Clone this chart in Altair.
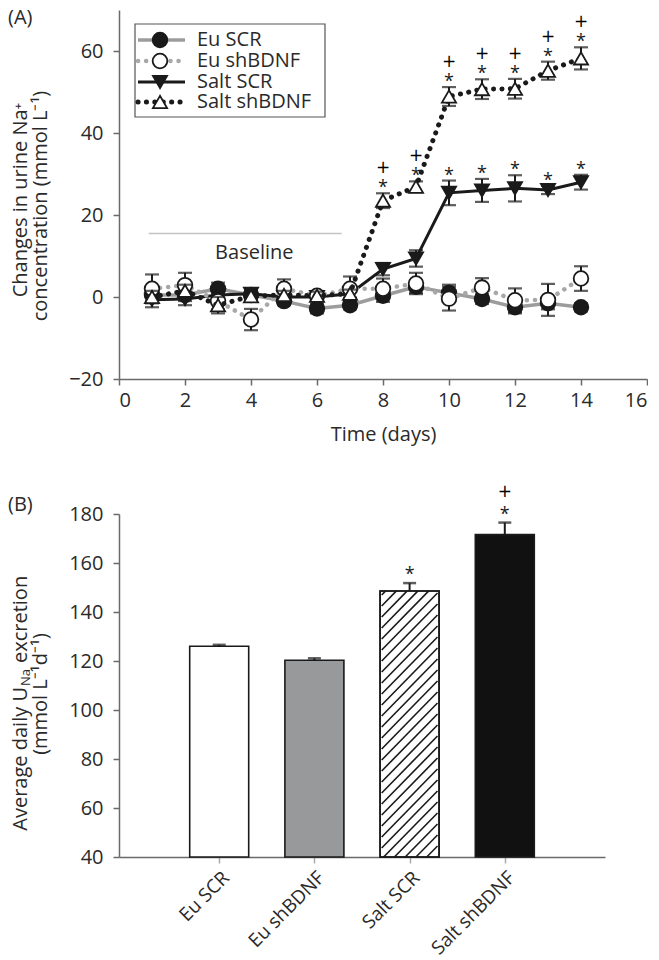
import altair as alt
import pandas as pd
import numpy as np

# ---------------- Data (panel A) ----------------
days = list(range(1, 15))
series_names = ["Eu SCR", "Eu shBDNF", "Salt SCR", "Salt shBDNF"]

eu_scr = [0.5, 0.5, 2.0, 0.5, -1.0, -2.8, -2.0, 0.3, 2.5, 1.0, -0.5, -2.5, -1.5, -2.5]
eu_scr_err = [1.5, 1.5, 1.5, 1.0, 1.0, 1.2, 1.0, 1.5, 1.5, 2.0, 1.2, 1.5, 1.5, 1.0]
eu_sh = [2.0, 2.9, -1.0, -5.5, 2.0, 0.3, 2.0, 2.0, 3.3, -0.4, 2.3, -0.8, -0.7, 4.5]
eu_sh_err = [3.5, 3.0, 2.0, 2.6, 2.3, 1.0, 3.0, 2.5, 2.6, 2.9, 2.3, 2.9, 3.9, 3.0]
salt_scr = [-0.7, -0.5, 0.5, 0.8, 0.0, 0.0, 0.8, 6.8, 9.4, 25.4, 26.0, 26.5, 26.1, 28.0]
salt_scr_err = [1.8, 1.5, 1.0, 1.0, 1.0, 1.0, 1.0, 1.5, 2.0, 3.0, 2.8, 3.2, 1.0, 1.8]
salt_sh = [0.0, 1.5, -2.0, 0.2, 0.5, 0.3, 0.8, 23.5, 26.9, 48.9, 50.7, 50.8, 55.2, 58.2]
salt_sh_err = [1.5, 1.5, 2.0, 1.0, 1.0, 1.0, 1.0, 1.8, 1.3, 2.3, 2.4, 2.4, 2.2, 2.7]

star_days_salt_sh = [8, 9, 10, 11, 12, 13, 14]
plus_days_salt_sh = [8, 9, 10, 11, 12, 13, 14]
star_days_salt_scr = [10, 11, 12, 13, 14]

baseline_span = [0.9, 6.75]
baseline_level = [15.5]
baseline_label_pos = [4.1, 10.8]

# ---------------- Data (panel B) ----------------
groups = ["Eu SCR", "Eu shBDNF", "Salt SCR", "Salt shBDNF"]
group_pos = [1, 2, 3, 4]
means = [126.0, 120.3, 148.6, 171.6]
sems = [0.6, 0.8, 3.2, 4.9]
star_groups = ["Salt SCR", "Salt shBDNF"]
plus_groups = ["Salt shBDNF"]

# ---------------- Layout / style ----------------
FONT = "Open Sans"
WA, HA = 528, 369
WB, HB = 486, 343
INK = "#1a1a1a"
TXT = "#2a2a2a"

vals = [eu_scr, eu_sh, salt_scr, salt_sh]
errs = [eu_scr_err, eu_sh_err, salt_scr_err, salt_sh_err]
rows = []
for name, vv, ee in zip(series_names, vals, errs):
    for d, v, e in zip(days, vv, ee):
        rows.append(dict(series=name, day=d, value=v, lo=v - e, hi=v + e))
dfA = pd.DataFrame(rows)

styles = {
    "Eu SCR": dict(line=dict(color="#9c9c9c", strokeWidth=3.5), shape="circle", fill=INK, size=215),
    "Eu shBDNF": dict(line=dict(color="#a8a8a8", strokeWidth=4.5, strokeDash=[0.1, 8], strokeCap="round"),
                      shape="circle", fill="white", size=215),
    "Salt SCR": dict(line=dict(color=INK, strokeWidth=3), shape="triangle-down", fill=INK, size=200),
    "Salt shBDNF": dict(line=dict(color=INK, strokeWidth=5, strokeDash=[0.1, 8.3], strokeCap="round"),
                        shape="triangle-up", fill="white", size=200),
}

axA_x = alt.Axis(values=list(range(0, 17, 2)), title="Time (days)", titlePadding=14, labelPadding=5)
axA_y = alt.Axis(values=[-20, 0, 20, 40, 60], title=None, labelPadding=10)
scA_x = alt.Scale(domain=[0, 16], nice=False)
scA_y = alt.Scale(domain=[-20, 70], nice=False)


def XA(f):
    return alt.X(f, scale=scA_x, axis=axA_x)


def YA(f):
    return alt.Y(f, scale=scA_y, axis=axA_y)


layersA = []
one = pd.DataFrame({"k": [0]})

# baseline
bl = pd.DataFrame({"x": [baseline_span[0]], "x2": [baseline_span[1]], "y": baseline_level})
layersA.append(alt.Chart(bl).mark_rule(color="#c4c4c4", strokeWidth=1.5).encode(x=XA("x:Q"), x2="x2:Q", y=YA("y:Q")))
bt = pd.DataFrame({"x": [baseline_label_pos[0]], "y": [baseline_label_pos[1]], "t": ["Baseline"]})
layersA.append(alt.Chart(bt).mark_text(font=FONT, fontSize=20, color=TXT).encode(x=XA("x:Q"), y=YA("y:Q"), text="t:N"))

for name in ["Eu SCR", "Salt SCR", "Eu shBDNF", "Salt shBDNF"]:
    st = styles[name]
    d = dfA[dfA.series == name]
    layersA.append(alt.Chart(d).mark_line(**st["line"]).encode(x=XA("day:Q"), y=YA("value:Q")))
    layersA.append(alt.Chart(d).mark_rule(color=INK, strokeWidth=2).encode(x=XA("day:Q"), y=YA("lo:Q"), y2="hi:Q"))
    layersA.append(alt.Chart(d).mark_tick(orient="horizontal", color=INK, size=14, thickness=2.2).encode(x=XA("day:Q"), y=YA("lo:Q")))
    layersA.append(alt.Chart(d).mark_tick(orient="horizontal", color=INK, size=14, thickness=2.2).encode(x=XA("day:Q"), y=YA("hi:Q")))
    layersA.append(alt.Chart(d).mark_point(shape=st["shape"], filled=True, fill=st["fill"], stroke=INK,
                                           strokeWidth=1.8, size=st["size"], opacity=1).encode(x=XA("day:Q"), y=YA("value:Q")))

# significance marks
stars_sh = dfA[(dfA.series == "Salt shBDNF") & dfA.day.isin(star_days_salt_sh)]
plus_sh = dfA[(dfA.series == "Salt shBDNF") & dfA.day.isin(plus_days_salt_sh)]
stars_scr = dfA[(dfA.series == "Salt SCR") & dfA.day.isin(star_days_salt_scr)]
stars_all = pd.concat([stars_sh, stars_scr])
layersA.append(alt.Chart(stars_all).mark_text(text="*", font=FONT, fontSize=18, dy=-5, color=INK).encode(x=XA("day:Q"), y=YA("hi:Q")))
layersA.append(alt.Chart(plus_sh).mark_text(text="+", font="DejaVu Sans", fontSize=17, dy=-25, color="#000000").encode(x=XA("day:Q"), y=YA("hi:Q")))

# legend (custom)
layersA.append(alt.Chart(one).mark_rect(fill="white", stroke="#555", strokeWidth=1.2).encode(
    x=alt.value(16), x2=alt.value(206), y=alt.value(14), y2=alt.value(107)))
leg_y = [30, 51, 72, 92]
for name, ly in zip(series_names, leg_y):
    st = styles[name]
    layersA.append(alt.Chart(one).mark_rule(**st["line"]).encode(x=alt.value(19), x2=alt.value(66), y=alt.value(ly)))
    layersA.append(alt.Chart(one).mark_point(shape=st["shape"], filled=True, fill=st["fill"], stroke=INK,
                                             strokeWidth=1.8, size=st["size"], opacity=1).encode(x=alt.value(41), y=alt.value(ly)))
    layersA.append(alt.Chart(one).mark_text(align="left", baseline="middle", font=FONT, fontSize=20, color=TXT).encode(
        x=alt.value(78), y=alt.value(ly), text=alt.value(name)))

# panel label and y title
layersA.append(alt.Chart(one).mark_text(align="left", baseline="top", font=FONT, fontSize=20, color=TXT).encode(
    x=alt.value(-111), y=alt.value(-2), text=alt.value("(A)")))
layersA.append(alt.Chart(one).mark_text(angle=270, align="center", baseline="middle", font=FONT, fontSize=20, color=TXT).encode(
    x=alt.value(-98), y=alt.value(190), text=alt.value("Changes in urine Na\u207a")))
layersA.append(alt.Chart(one).mark_text(angle=270, align="center", baseline="middle", font=FONT, fontSize=20, color=TXT).encode(
    x=alt.value(-78), y=alt.value(196), text=alt.value("concentration (mmol L\u207b\u00b9)")))

chartA = alt.layer(*layersA).properties(width=WA, height=HA)

# ---------------- Panel B ----------------
dfB = pd.DataFrame({"group": groups, "pos": group_pos, "mean": means, "hi": [m + s for m, s in zip(means, sems)]})
label_list = "[" + ",".join(["''"] + ["'" + g + "'" for g in groups]) + "]"
axB_x = alt.Axis(values=group_pos, labelExpr=label_list + "[datum.value]", labelAngle=-45, labelAlign="right",
                 labelBaseline="top", title=None, labelPadding=5, tickColor="#aaa", labelFontSize=19)
axB_y = alt.Axis(values=list(range(40, 181, 20)), title=None, labelPadding=10)
scB_x = alt.Scale(domain=[0, 5], nice=False)
scB_y = alt.Scale(domain=[40, 180], nice=False)


def XB(f):
    return alt.X(f, scale=scB_x, axis=axB_x)


def YB(f):
    return alt.Y(f, scale=scB_y, axis=axB_y)


BAR_W = 59
fills = ["white", "#98999b", "white", "#111111"]
layersB = []
layersB.append(alt.Chart(dfB).mark_bar(width=BAR_W, stroke=INK, strokeWidth=1.6).encode(
    x=XB("pos:Q"), y=YB("mean:Q"), y2=alt.datum(40),
    color=alt.Color("group:N", scale=alt.Scale(domain=groups, range=fills), legend=None)))

# hatch for Salt SCR (derived from its bar value)
px_x = WB / 5.0
px_y = HB / 140.0
hi_idx = groups.index("Salt SCR")
Hpx = (means[hi_idx] - 40) * px_y
Wpx = BAR_W - 2
hrows = []
for c in np.arange(-Wpx, Hpx, 11.0):
    xs = max(0.0, -c)
    xe = min(Wpx, Hpx - c)
    if xe - xs > 0.5:
        x0 = group_pos[hi_idx] - (Wpx / 2) / px_x
        hrows.append(dict(x=x0 + xs / px_x, x2=x0 + xe / px_x, y=40 + (xs + c) / px_y, y2=40 + (xe + c) / px_y))
dfH = pd.DataFrame(hrows)
layersB.append(alt.Chart(dfH).mark_rule(color=INK, strokeWidth=1.6).encode(x=XB("x:Q"), x2="x2:Q", y=YB("y:Q"), y2="y2:Q"))
layersB.append(alt.Chart(dfB[dfB.group == "Salt SCR"]).mark_bar(width=BAR_W, stroke=INK, strokeWidth=1.6, fillOpacity=0).encode(
    x=XB("pos:Q"), y=YB("mean:Q"), y2=alt.datum(40)))

layersB.append(alt.Chart(dfB).mark_rule(color=INK, strokeWidth=2).encode(x=XB("pos:Q"), y=YB("mean:Q"), y2="hi:Q"))
layersB.append(alt.Chart(dfB).mark_tick(orient="horizontal", color=INK, size=13, thickness=2.5).encode(x=XB("pos:Q"), y=YB("hi:Q")))
layersB.append(alt.Chart(dfB[dfB.group.isin(star_groups)]).mark_text(text="*", font=FONT, fontSize=18, dy=-8, color=INK).encode(
    x=XB("pos:Q"), y=YB("hi:Q")))
layersB.append(alt.Chart(dfB[dfB.group.isin(plus_groups)]).mark_text(text="+", font="DejaVu Sans", fontSize=17, dy=-31, color="#000000").encode(
    x=XB("pos:Q"), y=YB("hi:Q")))

layersB.append(alt.Chart(one).mark_text(align="left", baseline="top", font=FONT, fontSize=20, color=TXT).encode(
    x=alt.value(-111), y=alt.value(-19), text=alt.value("(B)")))
# y title with subscript, built from pieces along the rotated baseline
tx1, ty1 = -98, 167
layersB.append(alt.Chart(one).mark_text(angle=270, align="right", baseline="middle", font=FONT, fontSize=20, color=TXT, dx=-6).encode(
    x=alt.value(tx1), y=alt.value(ty1), text=alt.value("Average daily U")))
layersB.append(alt.Chart(one).mark_text(angle=270, align="left", baseline="middle", font=FONT, fontSize=13, color=TXT, dx=-5, dy=5).encode(
    x=alt.value(tx1), y=alt.value(ty1), text=alt.value("Na")))
layersB.append(alt.Chart(one).mark_text(angle=270, align="left", baseline="middle", font=FONT, fontSize=20, color=TXT, dx=18).encode(
    x=alt.value(tx1), y=alt.value(ty1), text=alt.value("excretion")))
layersB.append(alt.Chart(one).mark_text(angle=270, align="center", baseline="middle", font=FONT, fontSize=20, color=TXT).encode(
    x=alt.value(-78), y=alt.value(180), text=alt.value("(mmol L\u207b\u00b9d\u207b\u00b9)")))

chartB = alt.layer(*layersB).properties(width=WB, height=HB)

chart = alt.vconcat(chartA, chartB, spacing=135, bounds="flush").properties(padding=0).configure_view(
    stroke=None).configure_axis(
    grid=False, domainColor="#6a6a6a", domainWidth=1.5, tickColor="#6a6a6a", tickWidth=1.5, tickSize=6,
    labelFont=FONT, labelFontSize=20, labelColor=TXT, titleFont=FONT, titleFontSize=20,
    titleColor=TXT, titleFontWeight="normal")

chart.save("out.html", embed_options={"renderer": "svg", "actions": False})
